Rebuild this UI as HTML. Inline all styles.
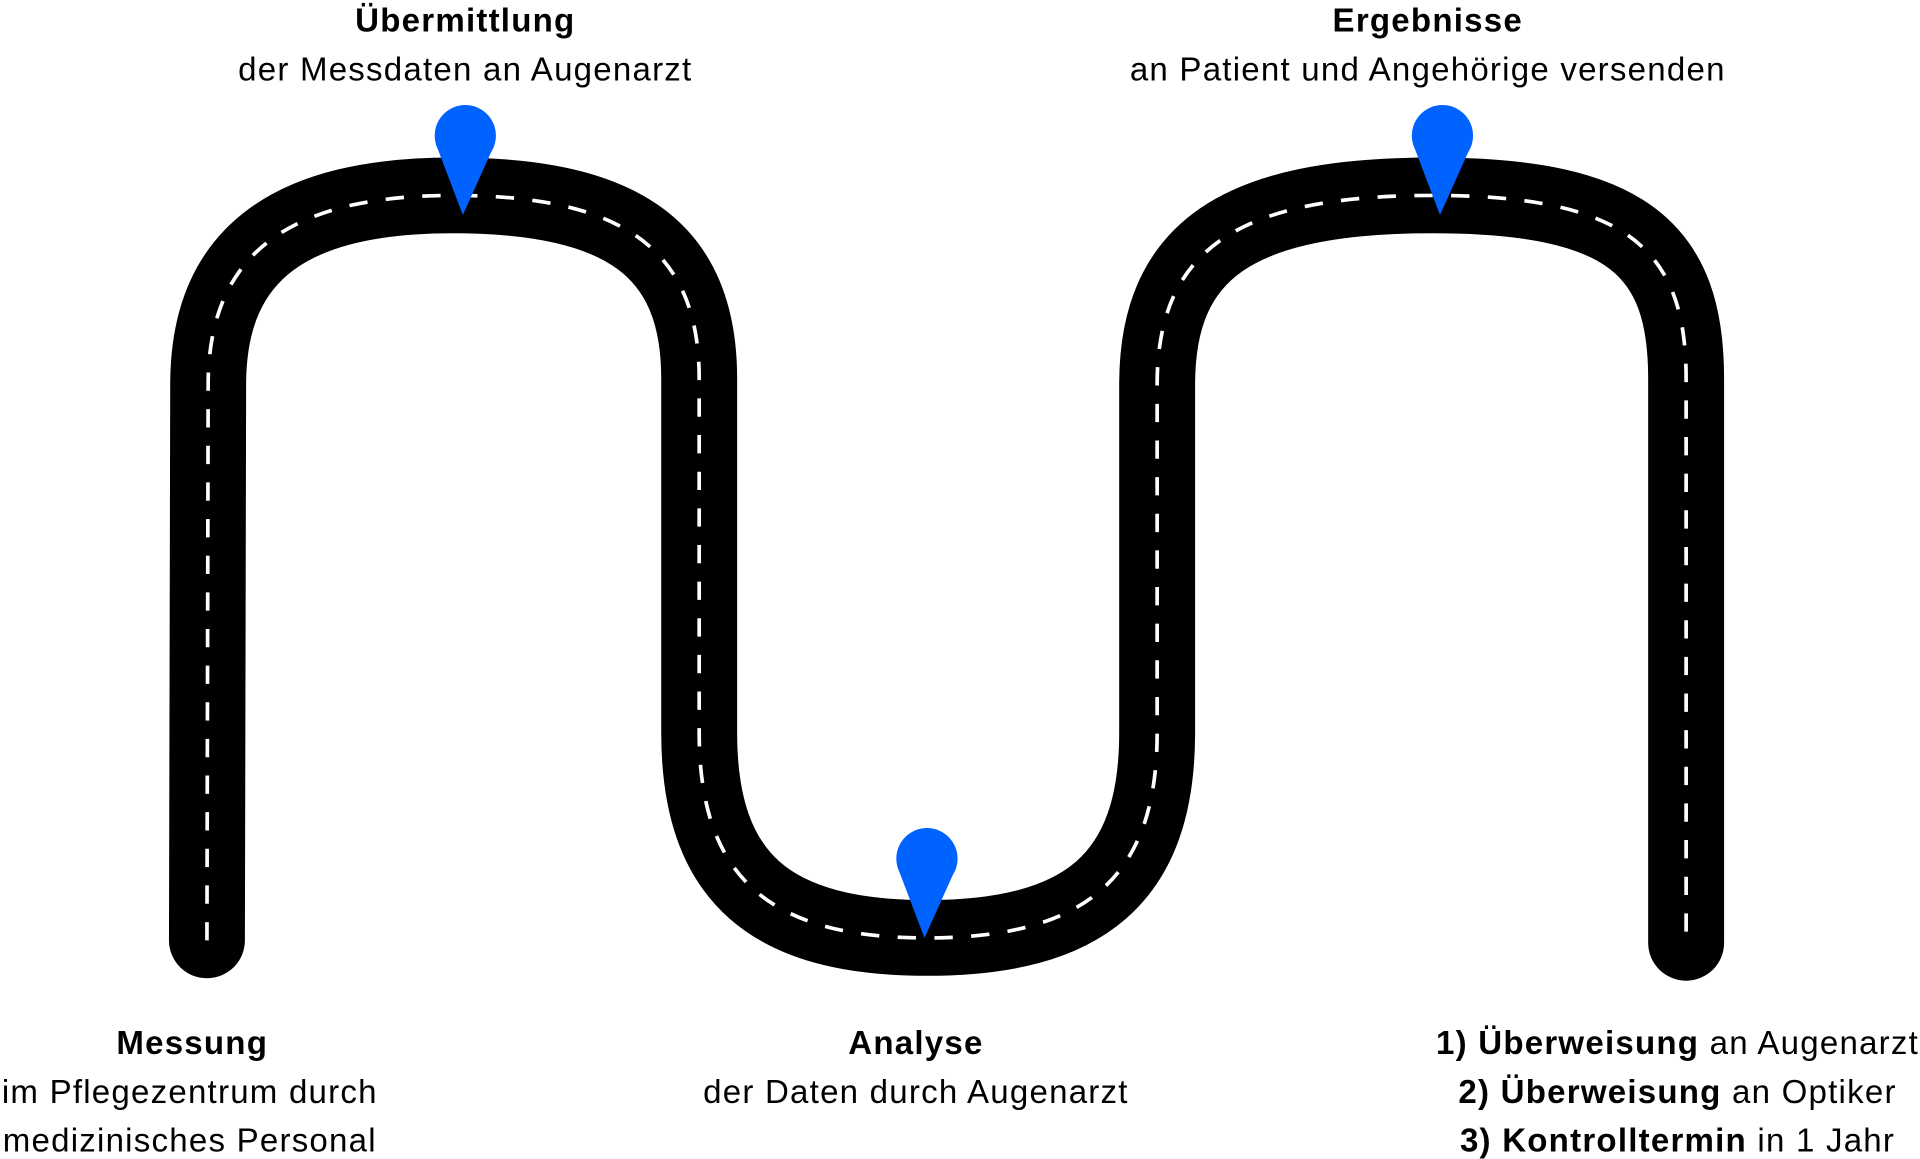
<!DOCTYPE html>
<html><head><meta charset="utf-8"><style>html,body{margin:0;padding:0;background:#fff;}svg{display:block}</style></head>
<body>
<svg width="1920" height="1159" viewBox="0 0 1568 949" preserveAspectRatio="none" xmlns="http://www.w3.org/2000/svg">
<path d="M169,770 L170,315 C170,205 240,160 370,160 C510,160 571,205 571,310 L571,600 C571,720 630,768 757,768 C885,768 945,720 945,600 L945,315 C945,205 1010,160 1170,160 C1330,160 1377,205 1377,310 L1377,772" fill="none" stroke="#000" stroke-width="62" stroke-linecap="round" stroke-linejoin="round"/>
<path d="M169,770 L170,315 C170,205 240,160 370,160 C510,160 571,205 571,310 L571,600 C571,720 630,768 757,768 C885,768 945,720 945,600 L945,315 C945,205 1010,160 1170,160 C1330,160 1377,205 1377,310 L1377,772" fill="none" stroke="#fff" stroke-width="3" stroke-dasharray="15 15"/>
<g fill="#0062ff">
<circle cx="380" cy="111" r="25"/><path d="M356,118 L378,176 L404,118 Z"/>
<circle cx="757" cy="703" r="25"/><path d="M733,710 L755,768 L781,710 Z"/>
<circle cx="1178" cy="111" r="25"/><path d="M1154,118 L1176,176 L1202,118 Z"/>
</g>
<g font-family="Liberation Sans, sans-serif" font-size="27" letter-spacing="1" text-anchor="middle" fill="#000">
<text x="380" y="26" font-weight="bold">Übermittlung</text>
<text x="380" y="66">der Messdaten an Augenarzt</text>
<text x="1166" y="26" font-weight="bold">Ergebnisse</text>
<text x="1166" y="66">an Patient und Angehörige versenden</text>
<text x="157" y="863" font-weight="bold">Messung</text>
<text x="155" y="903">im Pflegezentrum durch</text>
<text x="155" y="943">medizinisches Personal</text>
<text x="748" y="863" font-weight="bold">Analyse</text>
<text x="748" y="903">der Daten durch Augenarzt</text>
<text x="1370" y="863"><tspan font-weight="bold">1) Überweisung</tspan> an Augenarzt</text>
<text x="1370" y="903"><tspan font-weight="bold">2) Überweisung</tspan> an Optiker</text>
<text x="1370" y="943"><tspan font-weight="bold">3) Kontrolltermin</tspan> in 1 Jahr</text>
</g>
</svg>
</body></html>
